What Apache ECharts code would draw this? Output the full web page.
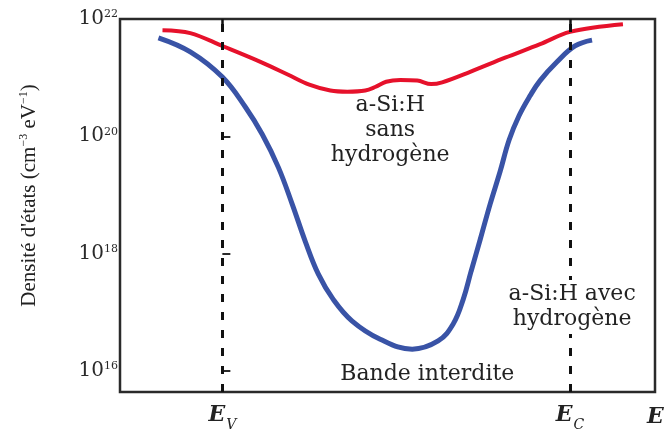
<!DOCTYPE html>
<html>
<head>
<meta charset="utf-8">
<script src="https://cdn.jsdelivr.net/npm/echarts@6/dist/echarts.min.js"></script>
<style>html,body{margin:0;padding:0;background:#fff}#c{width:668px;height:432px}</style>
</head>
<body>
<div id="c"></div>
<script>
// Energy (eV, E_V = 0, E_C = 1.8) and log10 of density of states
const energyBlue = [-0.331, -0.166, 0, 0.119, 0.207, 0.290, 0.362, 0.429, 0.497, 0.574, 0.672, 0.817, 0.983, 1.117, 1.195, 1.247, 1.288, 1.335, 1.386, 1.438, 1.485, 1.536, 1.593, 1.645, 1.733, 1.826, 1.914];
const logBlue    = [21.68, 21.44, 21.01, 20.50, 20.03, 19.47, 18.84, 18.21, 17.65, 17.22, 16.85, 16.54, 16.37, 16.51, 16.80, 17.22, 17.70, 18.24, 18.84, 19.40, 19.94, 20.35, 20.69, 20.95, 21.27, 21.54, 21.64];
const energyRed  = [-0.310, -0.166, 0, 0.197, 0.341, 0.450, 0.559, 0.647, 0.740, 0.791, 0.848, 0.921, 1.009, 1.081, 1.138, 1.283, 1.464, 1.645, 1.800, 2.074];
const logRed     = [21.81, 21.76, 21.54, 21.27, 21.05, 20.88, 20.78, 20.76, 20.78, 20.84, 20.93, 20.96, 20.95, 20.89, 20.92, 21.10, 21.34, 21.57, 21.78, 21.91];
const bandEdges  = [0, 1.8];
const bandLabels = ['V', 'C'];
const yTicks     = [16, 18, 20, 22];
const annotations = [
  {text: 'a-Si:H\nsans\nhydrogène', e: 0.869, l: 20.11, bg: false},
  {text: 'a-Si:H avec\nhydrogène', e: 1.811, l: 17.09, bg: true},
  {text: 'Bande interdite', e: 1.061, l: 15.95, bg: false}
];

const chart = echarts.init(document.getElementById('c'));
const serif = 'DejaVu Serif';
chart.setOption({
  animation: false,
  backgroundColor: '#fff',
  grid: {left: 120, right: 13, top: 19, bottom: 39, show: true, borderColor: '#2a2a2a', borderWidth: 2.5, backgroundColor: 'transparent'},
  xAxis: [{
    type: 'value', min: -0.53, max: 2.24,
    axisLine: {show: false}, splitLine: {show: false},
    axisTick: {show: false},
    axisLabel: {
      customValues: bandEdges, margin: 10,
      formatter: v => '{e|E}{s|' + bandLabels[bandEdges.indexOf(v)] + '}',
      rich: {
        e: {fontFamily: serif, fontStyle: 'italic', fontWeight: 'bold', fontSize: 22, lineHeight: 26, color: '#222'},
        s: {fontFamily: serif, fontStyle: 'italic', fontSize: 14, lineHeight: 14, verticalAlign: 'bottom', color: '#222', padding: [0, 0, -4, 1]}
      }
    },
    name: 'E', nameLocation: 'end', nameGap: -8,
    nameTextStyle: {fontFamily: serif, fontStyle: 'italic', fontWeight: 'bold', fontSize: 22, color: '#222', verticalAlign: 'top', padding: [14, 0, 0, 0]}
  }, {
    type: 'value', min: -0.53, max: 2.24, position: 'top',
    axisLine: {show: false}, splitLine: {show: false}, axisLabel: {show: false},
    axisTick: {show: true, inside: true, length: 7, customValues: bandEdges, lineStyle: {color: '#111', width: 2.5}}
  }],
  yAxis: {
    type: 'value', min: 15.64, max: 22,
    axisLine: {show: false}, splitLine: {show: false},
    axisTick: {show: true, inside: true, length: 8, customValues: yTicks, lineStyle: {color: '#2a2a2a', width: 2}},
    axisLabel: {
      customValues: yTicks, margin: 2,
      formatter: v => '{b|10}{s|' + v + '}',
      rich: {
        b: {fontFamily: serif, fontSize: 20, lineHeight: 20, color: '#2a2a2a'},
        s: {fontFamily: serif, fontSize: 11, lineHeight: 11, verticalAlign: 'top', color: '#2a2a2a'}
      }
    },
    name: '{a|Densité d\'états (cm}{s|−3}{a| eV}{s|−1}{a|)}',
    nameLocation: 'middle', nameGap: 80,
    nameTextStyle: {
      padding: [0, 0, 0, 20],
      rich: {
        a: {fontFamily: 'Liberation Serif', fontSize: 21, lineHeight: 22, color: '#222'},
        s: {fontFamily: 'Liberation Serif', fontSize: 12, lineHeight: 12, verticalAlign: 'top', color: '#222'}
      }
    }
  },
  series: [
    {
      type: 'line', data: [], z: 1, silent: true,
      markLine: {
        symbol: 'none', silent: true, label: {show: false},
        lineStyle: {type: [8, 10], color: '#111', width: 3},
        data: bandEdges.map(v => ({xAxis: v}))
      },
      markPoint: {
        symbol: 'rect', symbolSize: 0, silent: true,
        data: annotations.map(a => ({
          coord: [a.e, a.l],
          label: {
            show: true, position: 'inside', formatter: a.text,
            fontFamily: serif, fontSize: 22, lineHeight: 25, color: '#222',
            align: 'center', verticalAlign: 'middle',
            backgroundColor: a.bg ? '#fff' : 'transparent', padding: a.bg ? [2, 2] : 0
          }
        }))
      }
    },
    {
      type: 'line', name: 'sans hydrogène', z: 3, smooth: 0.35, showSymbol: false,
      lineStyle: {color: '#e6112b', width: 4}, itemStyle: {color: '#e6112b'},
      data: energyRed.map((e, i) => [e, logRed[i]])
    },
    {
      type: 'line', name: 'avec hydrogène', z: 3, smooth: 0.4, showSymbol: false,
      lineStyle: {color: '#3953a6', width: 5}, itemStyle: {color: '#3953a6'},
      data: energyBlue.map((e, i) => [e, logBlue[i]])
    }
  ]
});
</script>
</body>
</html>
